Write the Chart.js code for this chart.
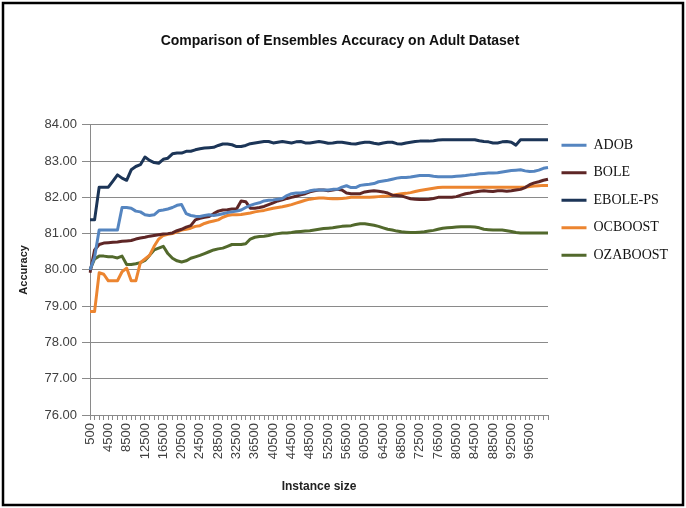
<!DOCTYPE html>
<html><head><meta charset="utf-8">
<script src="https://cdn.jsdelivr.net/npm/chart.js@4.4.0/dist/chart.umd.min.js"></script>
<style>html,body{margin:0;padding:0;background:#fff}#wrap{position:relative;width:686px;height:508px}</style>
</head><body><div id="wrap"><canvas id="c" width="686" height="508"></canvas></div>
<script>
const categories = [500,1500,2500,3500,4500,5500,6500,7500,8500,9500,10500,11500,12500,13500,14500,15500,16500,17500,18500,19500,20500,21500,22500,23500,24500,25500,26500,27500,28500,29500,30500,31500,32500,33500,34500,35500,36500,37500,38500,39500,40500,41500,42500,43500,44500,45500,46500,47500,48500,49500,50500,51500,52500,53500,54500,55500,56500,57500,58500,59500,60500,61500,62500,63500,64500,65500,66500,67500,68500,69500,70500,71500,72500,73500,74500,75500,76500,77500,78500,79500,80500,81500,82500,83500,84500,85500,86500,87500,88500,89500,90500,91500,92500,93500,94500,95500,96500,97500,98500,99500,100500];

const adob = [80.0,80.35,81.1,81.1,81.1,81.1,81.1,81.72,81.72,81.7,
81.62,81.6,81.52,81.5,81.52,81.63,81.65,81.68,81.72,81.78,
81.8,81.55,81.5,81.48,81.47,81.5,81.52,81.5,81.52,81.55,
81.58,81.6,81.62,81.65,81.72,81.78,81.82,81.85,81.9,81.92,
81.93,81.95,81.97,82.05,82.1,82.12,82.12,82.14,82.18,82.2,
82.2,82.2,82.2,82.22,82.22,82.28,82.32,82.27,82.27,82.33,
82.35,82.36,82.38,82.43,82.45,82.47,82.5,82.53,82.55,82.55,
82.56,82.58,82.6,82.6,82.6,82.58,82.57,82.57,82.57,82.57,
82.58,82.59,82.6,82.62,82.63,82.65,82.66,82.67,82.67,82.68,
82.7,82.72,82.74,82.75,82.76,82.73,82.71,82.72,82.75,82.8,82.82];

const bole = [79.92,80.55,80.7,80.74,80.75,80.76,80.77,80.79,80.8,80.81,
80.85,80.88,80.9,80.93,80.95,80.97,80.99,81.0,81.02,81.08,
81.12,81.18,81.22,81.38,81.42,81.45,81.47,81.55,81.62,81.65,
81.66,81.68,81.68,81.9,81.88,81.7,81.7,81.72,81.75,81.8,
81.85,81.9,81.93,81.97,82.0,82.03,82.07,82.1,82.15,82.18,
82.2,82.2,82.18,82.2,82.22,82.2,82.12,82.1,82.1,82.1,
82.15,82.17,82.18,82.17,82.15,82.12,82.06,82.05,82.04,82.0,
81.96,81.95,81.94,81.94,81.95,81.97,82.0,82.0,82.0,82.0,
82.02,82.06,82.1,82.12,82.15,82.17,82.18,82.17,82.16,82.18,
82.18,82.17,82.18,82.2,82.22,82.27,82.35,82.4,82.43,82.47,82.5];

const ebolePs = [81.38,81.38,82.28,82.28,82.28,82.45,82.62,82.53,82.47,82.76,
82.85,82.9,83.11,83.02,82.96,82.94,83.05,83.08,83.2,83.22,
83.22,83.27,83.27,83.31,83.34,83.36,83.37,83.38,83.43,83.47,
83.47,83.45,83.4,83.4,83.43,83.48,83.5,83.52,83.54,83.54,
83.5,83.52,83.54,83.52,83.5,83.53,83.54,83.5,83.5,83.52,
83.54,83.52,83.49,83.5,83.52,83.52,83.5,83.48,83.47,83.5,
83.52,83.52,83.49,83.47,83.5,83.52,83.52,83.48,83.47,83.5,
83.52,83.54,83.55,83.55,83.55,83.56,83.58,83.59,83.59,83.59,
83.59,83.59,83.59,83.59,83.59,83.56,83.54,83.53,83.5,83.5,
83.53,83.54,83.52,83.44,83.59,83.59,83.59,83.59,83.59,83.59,83.59];

const ocboost = [78.85,78.85,79.92,79.88,79.7,79.7,79.7,79.95,80.05,79.7,
79.7,80.2,80.3,80.4,80.65,80.85,80.95,80.98,81.0,81.05,
81.1,81.12,81.15,81.2,81.22,81.28,81.32,81.35,81.38,81.45,
81.5,81.52,81.52,81.53,81.55,81.57,81.6,81.62,81.64,81.67,
81.7,81.72,81.74,81.77,81.8,81.84,81.88,81.92,81.95,81.97,
81.98,81.98,81.97,81.96,81.96,81.97,81.98,82.0,82.0,82.0,
82.0,82.0,82.01,82.02,82.03,82.04,82.06,82.08,82.1,82.11,
82.13,82.16,82.19,82.21,82.23,82.25,82.27,82.28,82.28,82.28,
82.28,82.28,82.28,82.28,82.28,82.28,82.28,82.28,82.28,82.28,
82.28,82.28,82.28,82.28,82.28,82.28,82.3,82.31,82.32,82.33,82.33];

const ozaboost = [80.0,80.3,80.38,80.38,80.36,80.36,80.33,80.38,80.15,80.15,
80.17,80.2,80.26,80.4,80.55,80.6,80.65,80.45,80.32,80.25,
80.22,80.25,80.32,80.36,80.4,80.45,80.5,80.55,80.58,80.6,
80.65,80.7,80.7,80.7,80.72,80.85,80.9,80.92,80.93,80.95,
80.98,81.0,81.02,81.02,81.03,81.05,81.06,81.07,81.08,81.1,
81.12,81.14,81.15,81.16,81.18,81.2,81.21,81.22,81.25,81.27,
81.27,81.25,81.23,81.2,81.16,81.12,81.1,81.07,81.05,81.04,
81.03,81.03,81.04,81.05,81.07,81.09,81.12,81.15,81.16,81.17,
81.18,81.19,81.19,81.19,81.18,81.16,81.12,81.11,81.1,81.1,
81.1,81.08,81.06,81.03,81.02,81.02,81.02,81.02,81.02,81.02,81.02];

const seriesNames = ['ADOB','BOLE','EBOLE-PS','OCBOOST','OZABOOST'];
const yTickMin = 76, yTickMax = 84, yTickStep = 1;

const colors = ['#5585C0','#5E2626','#1C3557','#EC8530','#52692C'];
const allSeries = [adob, bole, ebolePs, ocboost, ozaboost];
const sans = "'Liberation Sans', Arial, sans-serif";

const frame = {
  id: 'frame',
  beforeDraw(chart) {
    const ctx = chart.ctx;
    ctx.save();
    ctx.fillStyle = '#fff';
    ctx.fillRect(0, 0, chart.width, chart.height);
    ctx.restore();
  },
  afterDraw(chart) {
    const ctx = chart.ctx;
    ctx.save();
    ctx.strokeStyle = '#000';
    ctx.lineWidth = 2.5;
    ctx.strokeRect(3, 3, 680, 502);
    ctx.restore();
  }
};

new Chart(document.getElementById('c'), {
  type: 'line',
  data: {
    labels: categories,
    datasets: seriesNames.map((n, k) => ({
      label: n,
      data: allSeries[k],
      borderColor: colors[k],
      backgroundColor: colors[k],
      borderWidth: 3,
      pointRadius: 0,
      pointHoverRadius: 0,
      tension: 0,
      fill: false,
      borderJoinStyle: 'round',
      pointStyle: 'line'
    }))
  },
  options: {
    responsive: false,
    animation: false,
    events: [],
    layout: { padding: { left: 4, right: 10, top: 4, bottom: 6 } },
    plugins: {
      title: {
        display: true,
        text: 'Comparison of Ensembles Accuracy on Adult Dataset',
        color: '#111',
        font: { family: sans, size: 14, weight: 'bold' },
        padding: { top: 29, bottom: 75 }
      },
      legend: {
        position: 'right',
        align: 'start',
        fullSize: false,
        maxWidth: 128,
        labels: {
          usePointStyle: true,
          pointStyle: 'line',
          pointStyleWidth: 25,
          boxHeight: 3,
          padding: 13.5,
          color: '#111',
          font: { family: "'Liberation Serif', 'Times New Roman', serif", size: 14 }
        }
      },
      tooltip: { enabled: false }
    },
    scales: {
      x: {
        type: 'category',
        offset: false,
        grid: { display: true, drawOnChartArea: false, drawTicks: true, tickLength: 5, color: '#8a8a8a' },
        border: { display: true, color: '#8a8a8a' },
        ticks: {
          autoSkip: false, minRotation: 90, maxRotation: 90, padding: 3,
          color: '#404040', font: { family: sans, size: 13 },
          callback: function (val, idx) { return (idx % 4 === 0 && idx <= 96) ? String(categories[idx]) : ''; }
        },
        title: { display: true, text: 'Instance size', color: '#222', font: { family: sans, size: 12, weight: 'bold' }, padding: { top: 4, bottom: 8 } },
        afterFit: s => { s.height = 87; }
      },
      y: {
        min: yTickMin, max: yTickMax,
        ticks: { stepSize: yTickStep, padding: 5, color: '#404040', font: { family: sans, size: 13 }, callback: v => Number(v).toFixed(2) },
        grid: { color: '#8a8a8a', tickLength: 8 },
        border: { color: '#8a8a8a' },
        title: { display: true, text: 'Accuracy', color: '#222', font: { family: sans, size: 11, weight: 'bold' }, padding: { top: 13, bottom: 0 } },
        afterFit: s => { s.width = 86; }
      }
    }
  },
  plugins: [frame]
});
</script>
</body></html>
